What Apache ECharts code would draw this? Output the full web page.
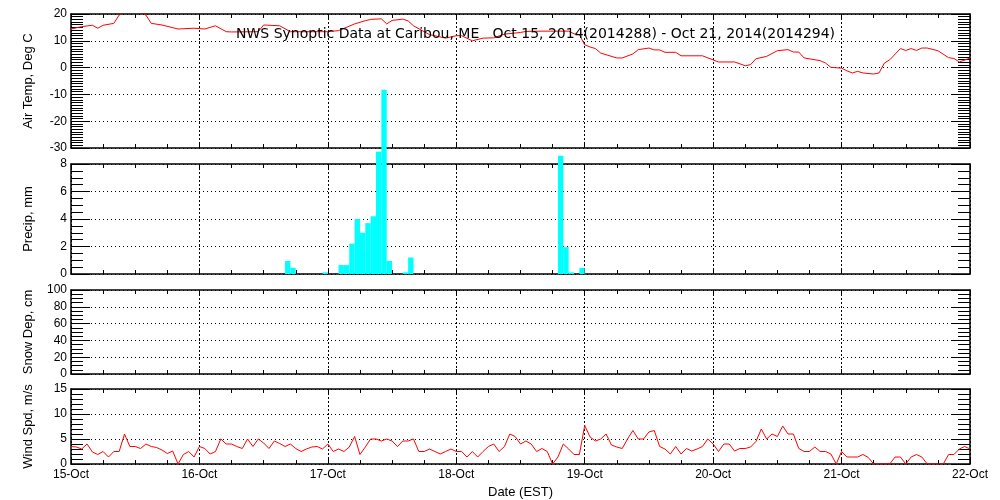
<!DOCTYPE html>
<html>
<head>
<meta charset="utf-8">
<script src="https://cdn.jsdelivr.net/npm/echarts@6/dist/echarts.min.js"></script>
<style>html,body{margin:0;padding:0;background:#fff}#c{width:1000px;height:500px}</style>
</head>
<body>
<div id="c"></div>
<script>
// ---- data (hours since 15-Oct 00:00 EST) ----
var dateLabels = ['15-Oct','16-Oct','17-Oct','18-Oct','19-Oct','20-Oct','21-Oct','22-Oct'];
var titleText = 'NWS Synoptic Data at Caribou, ME   Oct 15, 2014(2014288) - Oct 21, 2014(2014294)';

var tempHours = [0,2,4,5,6,8,9,11,14,15,17,20,23,25,27,29,30,35,36,39,41,48,50,53,55,56,58,59,60,62,63,64,67,70,72,73,75,77,79,81,84,85,88,93,94,95,96,97,98,99,102,103,105,106,108,109,110,111,113,114,118,121,124,126,127,128,130,132,134,135,136,137,140,141,142,144,145,146,147,148,150,151,152,153,155,156,157,158,159,160,162,164,165,166,167,168];
var tempValues = [14.4,15.3,15.8,14.7,15.8,16.5,19.6,23.0,19.6,16.5,15.9,14.4,14.7,14.4,15.6,13.4,13.3,13.4,15.9,15.6,13.4,13.4,13.8,16.3,17.5,18.0,18.2,16.3,17.6,18.1,17.4,15.6,12.3,11.0,11.9,11.9,10.0,11.0,11.1,12.5,13.1,13.5,13.6,13.6,12.6,12.3,8.5,7.7,7.1,5.4,3.6,3.6,5.1,6.7,7.3,6.6,6.6,5.7,5.7,4.4,4.4,2.1,2.1,0.7,1.1,3.3,4.2,6.3,6.7,5.8,5.8,3.6,2.6,1.7,0.1,-0.2,-1.2,-2.0,-1.4,-2.0,-2.4,-2.0,1.7,2.9,7.1,6.4,7.1,6.4,7.3,7.3,6.3,3.7,3.4,2.1,2.8,3.6];

var precipHours = [40,41,47,50,51,52,53,54,55,56,57,58,59,62,63,91,92,93,95];
var precipValues = [0.95,0.45,0.12,0.65,0.65,2.2,4.0,3.0,3.7,4.2,8.9,13.4,0.95,0.12,1.2,8.6,1.95,0.12,0.45];

var snowHours = [];
var snowValues = [];

// hourly wind speed, hour 0 .. 168
var windValues = [3.5,3.4,3.0,4.0,2.4,1.9,2.5,1.4,2.5,2.5,6.0,3.5,3.5,3.1,4.0,3.5,3.3,2.8,2.1,2.6,0,1.9,2.5,1.4,
3.5,3.1,2.0,2.5,5.0,4.0,4.0,3.5,3.1,5.0,3.5,5.0,4.2,3.1,4.6,4.1,3.5,4.0,3.1,2.5,3.0,3.4,3.5,3.0,
4.0,2.5,3.0,2.5,3.4,5.5,1.9,3.4,5.0,5.0,4.6,5.0,4.6,3.5,4.6,4.6,5.0,2.5,2.5,3.0,2.5,2.0,2.5,3.0,
2.5,2.5,1.4,2.5,1.4,2.5,3.5,4.0,2.5,3.5,6.0,5.5,4.0,4.6,4.0,2.5,3.1,2.5,0,1.4,4.0,3.0,1.9,1.9,
7.7,5.4,4.6,5.0,6.0,3.8,3.4,3.1,5.0,6.7,5.0,5.0,6.4,6.7,3.5,3.0,2.0,3.5,2.0,3.1,2.6,3.0,3.5,5.0,
4.0,2.5,4.0,4.0,2.6,3.1,3.1,3.4,4.5,7.0,5.0,6.0,5.5,7.6,6.0,6.0,3.1,2.5,2.5,3.4,2.5,2.5,2.0,0,
2.5,1.4,1.4,1.4,1.9,1.3,0,0,0,0,1.4,1.4,0,1.4,1.9,1.4,0,0,0,0,1.9,1.9,3.0,3.5,3.0];

var panels = [
  {name:'Air Temp, Deg C', min:-30, max:20, interval:10, minorSplit:10},
  {name:'Precip, mm',      min:0,   max:8,  interval:2,  minorSplit:4},
  {name:'Snow Dep, cm',    min:0,   max:100,interval:20, minorSplit:4},
  {name:'Wind Spd, m/s',   min:0,   max:15, interval:5,  minorSplit:5}
];

// ---- build option ----
var FONT = 'Liberation Sans';
var gridBoxes = [
  {left:71, top:14,  width:899, height:134},
  {left:71, top:164, width:899, height:110},
  {left:71, top:290, width:899, height:84},
  {left:71, top:389, width:899, height:80}
];
var grids = [], xAxes = [], yAxes = [];
gridBoxes.forEach(function(g, i){
  grids.push({left:g.left, top:g.top, width:g.width, height:g.height, containLabel:false});
  var last = (i === gridBoxes.length - 1);
  // bottom x axis
  xAxes.push({
    type:'value', gridIndex:i, position:'bottom', min:0, max:168, interval:24,
    axisLine:{show:true, onZero:false, lineStyle:{color:'#000', width:1.5}},
    axisTick:{show:true, inside:true, length:5, lineStyle:{color:'#000'}},
    minorTick:{show:true, splitNumber:4, length:4, lineStyle:{color:'#000'}},
    splitLine:{show:true, lineStyle:{color:'#000', type:[2,2], width:1}},
    axisLabel:{show:last, color:'#000', fontFamily:FONT, fontSize:12, margin:5,
      formatter:function(v){ return dateLabels[Math.round(v/24)]; }},
    name: last ? 'Date (EST)' : '', nameLocation:'middle', nameGap:22,
    nameTextStyle:{color:'#000', fontFamily:FONT, fontSize:13}
  });
  // top x axis (frame + ticks)
  xAxes.push({
    type:'value', gridIndex:i, position:'top', min:0, max:168, interval:24,
    axisLine:{show:true, onZero:false, lineStyle:{color:'#000', width:1.5}},
    axisTick:{show:true, inside:true, length:5, lineStyle:{color:'#000'}},
    minorTick:{show:true, splitNumber:4, length:4, lineStyle:{color:'#000'}},
    splitLine:{show:false}, axisLabel:{show:false}
  });
  var p = panels[i];
  yAxes.push({
    type:'value', gridIndex:i, position:'left', min:p.min, max:p.max, interval:p.interval,
    axisLine:{show:true, onZero:false, lineStyle:{color:'#000', width:1.5}},
    axisTick:{show:true, inside:true, length:19, lineStyle:{color:'#000'}},
    minorTick:{show:true, splitNumber:p.minorSplit, length:12, lineStyle:{color:'#000'}},
    splitLine:{show:true, lineStyle:{color:'#000', type:[1,3], width:1}},
    axisLabel:{color:'#000', fontFamily:FONT, fontSize:12, margin:4},
    name:p.name, nameLocation:'middle', nameGap:36,
    nameTextStyle:{color:'#000', fontFamily:FONT, fontSize:13}
  });
  yAxes.push({
    type:'value', gridIndex:i, position:'right', min:p.min, max:p.max, interval:p.interval,
    axisLine:{show:true, onZero:false, lineStyle:{color:'#000', width:1.5}},
    axisTick:{show:true, inside:true, length:19, lineStyle:{color:'#000'}},
    minorTick:{show:true, splitNumber:p.minorSplit, length:12, lineStyle:{color:'#000'}},
    splitLine:{show:false}, axisLabel:{show:false}
  });
});

var tempData = tempHours.map(function(h, k){ return [h, tempValues[k]]; });
var precipData = precipHours.map(function(h, k){ return [h, precipValues[k]]; });
var windData = windValues.map(function(v, h){ return [h, v]; });
var snowData = snowHours.map(function(h, k){ return [h, snowValues[k]]; });

var option = {
  animation:false,
  backgroundColor:'#fff',
  title:{text:titleText, left:231, top:22,
    textStyle:{color:'#000', fontFamily:'DejaVu Sans', fontSize:14, fontWeight:'normal'}},
  grid:grids, xAxis:xAxes, yAxis:yAxes,
  series:[
    {type:'line', xAxisIndex:0, yAxisIndex:0, data:tempData, symbol:'none',
      lineStyle:{color:'#ff0000', width:1}, clip:true, z:3},
    {type:'custom', xAxisIndex:2, yAxisIndex:2, data:precipData, clip:false, z:4,
      renderItem:function(params, api){
        var h = api.value(0), v = api.value(1);
        var p0 = api.coord([h, 0]), p1 = api.coord([h + 1, v]);
        return {type:'rect', shape:{x:p0[0], y:p1[1], width:p1[0]-p0[0], height:p0[1]-p1[1]},
          style:{fill:'#00ffff'}};
      }},
    {type:'line', xAxisIndex:4, yAxisIndex:4, data:snowData, symbol:'none',
      lineStyle:{color:'#ff0000', width:1}},
    {type:'line', xAxisIndex:6, yAxisIndex:6, data:windData, symbol:'none',
      lineStyle:{color:'#ff0000', width:1}, clip:true, z:3}
  ]
};
var chart = echarts.init(document.getElementById('c'), null, {renderer:'canvas'});
chart.setOption(option);
</script>
</body>
</html>
